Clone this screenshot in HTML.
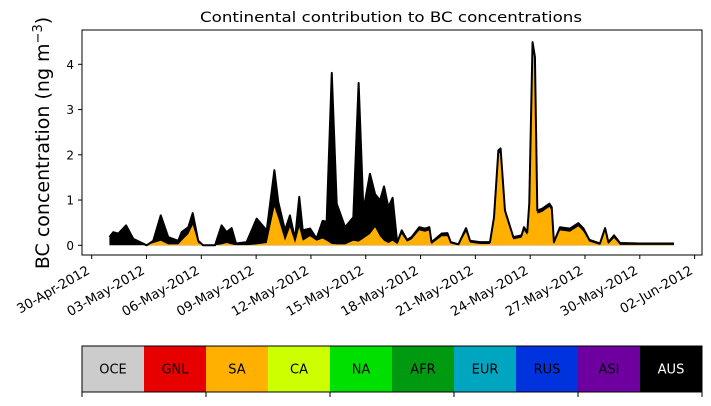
<!DOCTYPE html>
<html><head><meta charset="utf-8">
<style>
body{margin:0;background:#fff;width:711px;height:402px;overflow:hidden;font-family:"DejaVu Sans","Liberation Sans",sans-serif}
</style></head>
<body>
<svg id="chart" width="711" height="402" viewBox="0 0 711 402" xmlns="http://www.w3.org/2000/svg" font-family="DejaVu Sans, Liberation Sans, sans-serif">
<text x="391" y="22" text-anchor="middle" font-size="14.5" textLength="382" lengthAdjust="spacingAndGlyphs">Continental contribution to BC concentrations</text>
<text transform="translate(49,143) rotate(-90)" text-anchor="middle" font-size="19">BC concentration (ng m<tspan dy="-7" font-size="13">−3</tspan><tspan dy="7">)</tspan></text>
<g id="plot"></g>
<g id="cbar"></g>
</svg>
<script>
const days=[0.97,1.18,1.46,1.88,2.28,3.01,3.37,3.78,4.19,4.74,4.92,5.29,5.53,5.83,6.1,6.75,7.11,7.38,7.66,7.9,8.48,9.03,9.58,10.0,10.21,10.58,10.85,11.13,11.36,11.55,11.95,12.31,12.64,12.86,13.14,13.41,13.87,14.32,14.61,14.87,15.23,15.51,15.78,16.0,16.24,16.47,16.72,16.97,17.26,17.51,17.93,18.25,18.48,18.6,19.16,19.47,19.65,20.07,20.49,20.71,21.25,21.8,22.02,22.26,22.38,22.62,23.08,23.53,23.66,23.84,23.95,24.13,24.26,24.39,24.66,25.05,25.18,25.3,25.63,26.18,26.64,26.92,27.24,27.82,28.1,28.28,28.59,28.92,30.0,31.87];
const totalBC=[0.18,0.29,0.26,0.44,0.14,0.0,0.1,0.66,0.18,0.1,0.29,0.4,0.71,0.1,0.0,0.0,0.44,0.29,0.38,0.04,0.07,0.59,0.33,1.66,0.96,0.33,0.66,0.14,1.07,0.33,0.37,0.15,0.54,0.52,3.81,0.92,0.4,0.62,3.59,0.77,1.58,1.13,0.99,1.3,0.84,1.05,0.06,0.33,0.12,0.18,0.4,0.37,0.4,0.07,0.26,0.27,0.07,0.02,0.38,0.1,0.07,0.07,0.62,2.1,2.14,0.77,0.18,0.22,0.4,0.29,0.92,4.49,4.16,0.77,0.81,0.92,0.84,0.07,0.4,0.37,0.49,0.37,0.12,0.04,0.38,0.07,0.22,0.05,0.04,0.04];
const saBC=[0.0,0.0,0.0,0.0,0.0,0.0,0.05,0.1,0.02,0.02,0.1,0.25,0.45,0.05,0.0,0.0,0.02,0.05,0.02,0.0,0.0,0.02,0.05,0.85,0.6,0.1,0.4,0.05,0.4,0.1,0.2,0.1,0.15,0.1,0.03,0.02,0.02,0.1,0.08,0.15,0.25,0.4,0.2,0.1,0.05,0.1,0.03,0.25,0.08,0.13,0.33,0.3,0.33,0.03,0.2,0.2,0.04,0.0,0.3,0.06,0.03,0.03,0.55,2.02,2.05,0.7,0.13,0.17,0.33,0.23,0.85,4.4,4.05,0.7,0.74,0.85,0.77,0.03,0.33,0.3,0.42,0.3,0.08,0.01,0.32,0.03,0.16,0.01,0.01,0.01];
const yTicks=[0,1,2,3,4];
const xTickLabels=["30-Apr-2012","03-May-2012","06-May-2012","09-May-2012","12-May-2012","15-May-2012","18-May-2012","21-May-2012","24-May-2012","27-May-2012","30-May-2012","02-Jun-2012"];
const regions=["OCE","GNL","SA","CA","NA","AFR","EUR","RUS","ASI","AUS"];
const regionColors=["#cccccc","#e60000","#ffb000","#ccff00","#00e000","#009a10","#00a6bf","#0033dd","#6e00a0","#000000"];

const NS="http://www.w3.org/2000/svg";
const L=82,R=702,T=30,B=255;
const xS=d=>91.7+d*18.27;
const yS=v=>245.3-v*45.25;
function mk(tag,attrs,parent){const e=document.createElementNS(NS,tag);for(const k in attrs)e.setAttribute(k,attrs[k]);parent.appendChild(e);return e;}
const plot=document.getElementById('plot');
function areaPath(vals){let d='M'+xS(days[0])+','+yS(0);days.forEach((x,i)=>d+='L'+xS(x)+','+yS(vals[i]));d+='L'+xS(days[days.length-1])+','+yS(0)+'Z';return d;}
let a=mk('path',{d:areaPath(totalBC),fill:'#000'},plot);


let s=mk('path',{d:areaPath(saBC),fill:'#ffb000'},plot);


let ln='M'+days.map((x,i)=>xS(x)+','+yS(totalBC[i])).join('L');
let l=mk('path',{d:ln,fill:'none',stroke:'#000','stroke-width':2,'stroke-linejoin':'round'},plot);


let fr=mk('rect',{x:L,y:T,width:R-L,height:B-T,fill:'none',stroke:'#000','stroke-width':1},plot);


yTicks.forEach(v=>{
  mk('line',{x1:L-4,x2:L,y1:yS(v),y2:yS(v),stroke:'#000'},plot);
  let t=mk('text',{x:L-8,y:yS(v)+4.5,'text-anchor':'end','font-size':12},plot);
  t.textContent=v;
  
  
});
xTickLabels.forEach((lab,i)=>{
  const x=xS(i*3);
  mk('line',{x1:x,x2:x,y1:B,y2:B+4,stroke:'#000'},plot);
  let t=mk('text',{transform:`translate(${x-1},${B+18}) rotate(-30)`,'text-anchor':'end','font-size':13.2},plot);
  t.textContent=lab;
  
  
});
const cb=document.getElementById('cbar');
const cw=(R-L)/regions.length;
regions.forEach((r,i)=>{
  let rc=mk('rect',{x:L+i*cw,y:346,width:cw,height:46,fill:regionColors[i]},cb);
  
  
  let t=mk('text',{x:L+i*cw+cw/2,y:373.5,'text-anchor':'middle','font-size':13,fill:r==='AUS'?'#fff':'#000'},cb);
  t.textContent=r;
  
  
});
mk('rect',{x:L,y:346,width:R-L,height:46,fill:'none',stroke:'#000','stroke-width':1},cb);
for(let i=0;i<=regions.length;i+=2){mk('line',{x1:L+i*cw,x2:L+i*cw,y1:392,y2:397,stroke:'#000'},cb);}
</script>
</body></html>
